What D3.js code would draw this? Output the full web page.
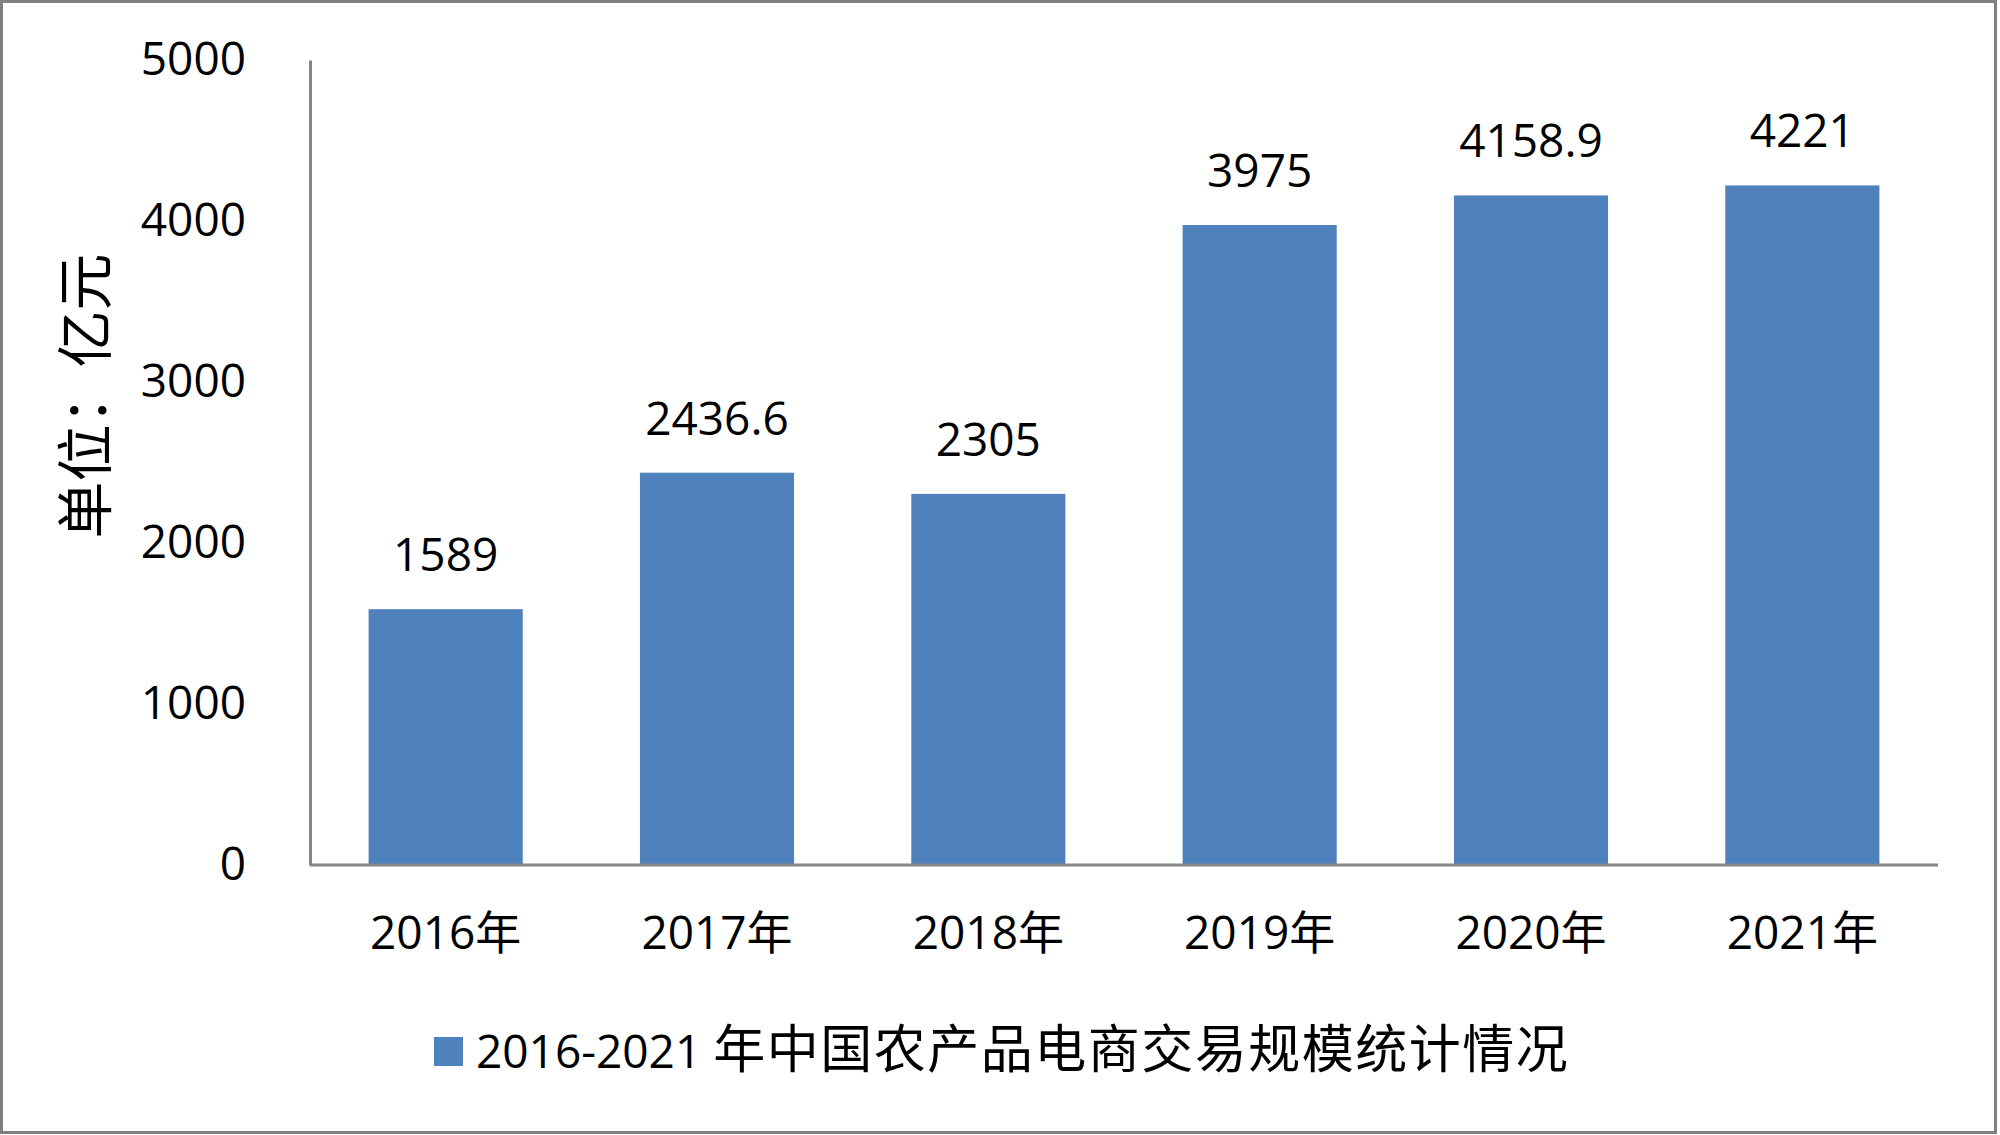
<!DOCTYPE html>
<html>
<head>
<meta charset="utf-8">
<script src="https://cdn.jsdelivr.net/npm/d3@7"></script>
<style>
  html, body { margin: 0; padding: 0; background: #fff; }
  svg { display: block; }
</style>
</head>
<body>
<svg id="chart" width="2000" height="1135"></svg>
<script>
const categories = ["2016年", "2017年", "2018年", "2019年", "2020年", "2021年"];
const values = [1589, 2436.6, 2305, 3975, 4158.9, 4221];
const valueLabels = ["1589", "2436.6", "2305", "3975", "4158.9", "4221"];
const yTicks = [0, 1000, 2000, 3000, 4000, 5000];
const seriesNameNum = "2016-2021 ";
const seriesNameText = "年中国农产品电商交易规模统计情况";
const yTitle = "单位：亿元";

const W = 2000, H = 1135;
const FONT = "'Open Sans', 'Noto Sans CJK SC', sans-serif";
const svg = d3.select("#chart");

// outer border
svg.append("rect").attr("x", 1.5).attr("y", 1.5).attr("width", W - 6).attr("height", H - 4)
  .attr("fill", "#fff").attr("stroke", "#808080").attr("stroke-width", 3);

const plot = { left: 310, right: 1938, top: 60, bottom: 865 };

const x = d3.scaleBand().domain(categories).range([plot.left, plot.right])
  .paddingInner(0.432).paddingOuter(0.216);
const y = d3.scaleLinear().domain([0, 5000]).range([plot.bottom, plot.top]);

// bars
svg.append("g").selectAll("rect").data(values).join("rect")
  .attr("x", (d, i) => x(categories[i]))
  .attr("y", d => y(d))
  .attr("width", x.bandwidth())
  .attr("height", d => y(0) - y(d))
  .attr("fill", "#4F81BD");

// y axis
const yAxis = d3.axisLeft(y).tickValues(yTicks).tickSize(0).tickPadding(64).tickFormat(d3.format("d"));
const gy = svg.append("g").attr("transform", `translate(${plot.left},0)`).call(yAxis);
gy.select(".domain").attr("stroke", "#868686").attr("stroke-width", 3);
gy.selectAll("text").attr("font-family", FONT).attr("font-size", 46).attr("fill", "#000");

// x axis
const xAxis = d3.axisBottom(x).tickSize(0).tickPadding(51);
const gx = svg.append("g").attr("transform", `translate(0,${plot.bottom})`).call(xAxis);
gx.select(".domain").attr("stroke", "#868686").attr("stroke-width", 3)
  .attr("d", `M${plot.left},0H${plot.right}`);
gx.selectAll("text").attr("font-family", FONT).attr("font-size", 46).attr("fill", "#000");

// data labels
svg.append("g").selectAll("text").data(values).join("text")
  .attr("x", (d, i) => x(categories[i]) + x.bandwidth() / 2)
  .attr("y", d => y(d) - 38)
  .attr("text-anchor", "middle")
  .attr("font-family", FONT).attr("font-size", 46).attr("fill", "#000")
  .text((d, i) => valueLabels[i]);

// y title
svg.append("text")
  .attr("transform", "translate(106,396) rotate(-90)")
  .attr("text-anchor", "middle")
  .attr("font-family", "'Noto Sans CJK SC', sans-serif").attr("font-size", 57).attr("fill", "#000")
  .text(yTitle);

// legend
const lg = svg.append("g");
lg.append("rect").attr("x", 434).attr("y", 1037).attr("width", 29).attr("height", 29).attr("fill", "#4F81BD");
const lt = lg.append("text").attr("x", 476).attr("y", 1052).attr("dy", "0.35em")
  .attr("font-family", FONT).attr("font-size", 46).attr("fill", "#000");
lt.append("tspan").text(seriesNameNum);
lt.append("tspan").attr("font-family", "'Noto Sans CJK SC', sans-serif").attr("font-size", 52)
  .attr("letter-spacing", 1.5)
  .text(seriesNameText);
</script>
</body>
</html>
